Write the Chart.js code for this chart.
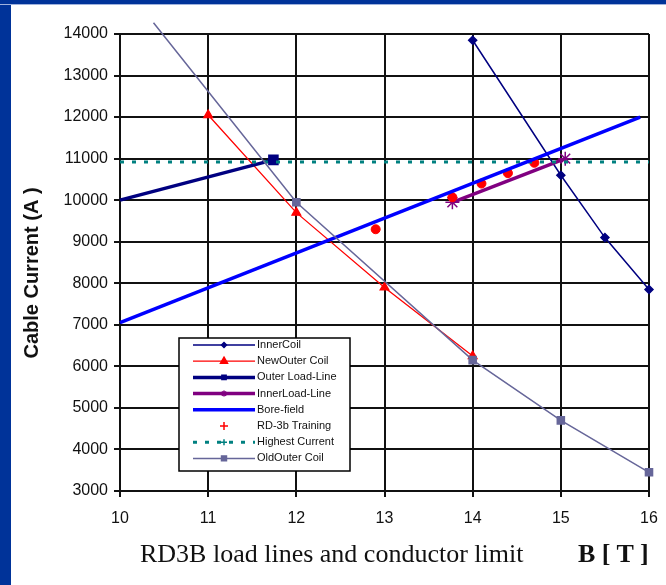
<!DOCTYPE html>
<html>
<head>
<meta charset="utf-8">
<script src="https://cdn.jsdelivr.net/npm/chart.js@4.4.1/dist/chart.umd.min.js"></script>
<style>
  html, body { margin: 0; padding: 0; background: #fff; }
  #wrap { position: relative; width: 666px; height: 585px; overflow: hidden; background: #fff; }
  #chart { position: absolute; left: 0; top: 0; }
  #frameLeft { position: absolute; left: 0; top: 0; width: 11px; height: 585px; background: #003399; }
  #frameTop { position: absolute; left: 0; top: 0; width: 666px; height: 4px; background: #003399; border-bottom: 1px solid #9fb2dd; }
  .cap { position: absolute; top: 539px; line-height: 30px; font-family: "Liberation Serif", "Times New Roman", serif;
         font-size: 26px; color: #111; white-space: nowrap; }
</style>
</head>
<body>
<div id="wrap">
  <canvas id="chart" width="666" height="585"></canvas>
  <div id="frameLeft"></div>
  <div id="frameTop"></div>
  <div class="cap" style="left:140px">RD3B load lines and conductor limit</div>
  <div class="cap" style="left:578px; font-weight:bold">B [ T ]</div>
</div>
<script>
// values: B in tesla, cable current in ampere
const innerCoilB = [14, 15, 15.5, 16];
const innerCoilI = [13850, 10600, 9100, 7850];
const newOuterB = [11, 12, 13, 14];
const newOuterI = [12050, 9700, 7900, 6250];
const outerLoadB = [10, 11.74];
const outerLoadI = [10000, 10970];
const innerLoadB = [13.77, 15.05];
const innerLoadI = [9950, 11000];
const boreB = [10, 15.9];
const boreI = [7050, 12000];
const trainingB = [12.9, 13.77, 14.1, 14.4, 14.7];
const trainingI = [9300, 10070, 10400, 10650, 10900];
const highestB = [10, 16];
const highestI = [10920, 10920];
const oldOuterB = [10.38, 12, 14, 15, 16];
const oldOuterI = [14270, 9950, 6150, 4700, 3450];

const seriesNames = ['InnerCoil', 'NewOuter Coil', 'Outer Load-Line', 'InnerLoad-Line',
  'Bore-field', 'RD-3b Training', 'Highest Current', 'OldOuter Coil'];
const yTitle = 'Cable Current (A )';

const xTicks = { min: 10, max: 16, step: 1 };
const yTicks = { min: 3000, max: 14000, step: 1000 };

function pts(xs, ys) {
  return xs.map((x, i) => ({ x: x, y: ys[i] }));
}

const datasets = [
  { label: seriesNames[0], data: pts(innerCoilB, innerCoilI), showLine: true,
    borderColor: '#000080', backgroundColor: '#000080', borderWidth: 1.5,
    pointStyle: 'rectRot', pointRadius: 4, legendRadius: 2.5, order: 8 },
  { label: seriesNames[1], data: pts(newOuterB, newOuterI), showLine: true,
    borderColor: '#ff0000', backgroundColor: '#ff0000', borderWidth: 1.3,
    pointStyle: 'triangle', pointRadius: 5, legendRadius: 4, order: 7 },
  { label: seriesNames[2], data: pts(outerLoadB, outerLoadI), showLine: true,
    borderColor: '#000080', backgroundColor: '#000080', borderWidth: 3.5,
    pointStyle: 'rect', pointRadius: [0, 5], legendRadius: 3, order: 6 },
  { label: seriesNames[3], data: pts(innerLoadB, innerLoadI), showLine: true,
    borderColor: '#800080', backgroundColor: '#800080', borderWidth: 3.5,
    pointStyle: 'star', pointRadius: 7, pointBorderWidth: 1.5, legendRadius: 3, order: 5 },
  { label: seriesNames[4], data: pts(boreB, boreI), showLine: true,
    borderColor: '#0000ff', backgroundColor: '#0000ff', borderWidth: 3.5,
    pointRadius: 0, legendRadius: 0, order: 2 },
  { label: seriesNames[5], data: pts(trainingB, trainingI), showLine: false,
    borderColor: '#ff0000', backgroundColor: '#ff0000', borderWidth: 1,
    pointStyle: 'circle', pointRadius: 4.5, legendStyle: 'cross', legendRadius: 4, order: 4 },
  { label: seriesNames[6], data: pts(highestB, highestI), showLine: true,
    borderColor: '#008080', backgroundColor: '#008080', borderWidth: 3, borderDash: [4, 8],
    pointRadius: 0, legendStyle: 'cross', legendRadius: 3, order: 3 },
  { label: seriesNames[7], data: pts(oldOuterB, oldOuterI), showLine: true,
    borderColor: '#666699', backgroundColor: '#666699', borderWidth: 1.5,
    pointStyle: 'rect', pointRadius: [0, 5, 5, 5, 5], legendRadius: 3.5, order: 1,
    clip: { left: 8, top: 20, right: 8, bottom: 8 } }
];
datasets.forEach(d => { if (d.clip === undefined) d.clip = 8; });

// legend box drawn inside the plot like the original
const legendBox = { left: 179, top: 338, width: 171, height: 133, firstRow: 345, rowGap: 16.2,
  lineFrom: 193, lineTo: 255, textX: 257 };

const insideLegend = {
  id: 'insideLegend',
  afterDraw(chart) {
    const ctx = chart.ctx;
    const L = legendBox;
    ctx.save();
    ctx.fillStyle = '#fff';
    ctx.fillRect(L.left, L.top, L.width, L.height);
    ctx.strokeStyle = '#000';
    ctx.lineWidth = 1.5;
    ctx.strokeRect(L.left, L.top, L.width, L.height);
    ctx.font = '11px "Liberation Sans", Arial, sans-serif';
    ctx.textBaseline = 'middle';
    chart.data.datasets.forEach((d, i) => {
      const y = L.firstRow + i * L.rowGap;
      ctx.strokeStyle = d.borderColor;
      ctx.fillStyle = d.backgroundColor;
      if (d.showLine) {
        ctx.lineWidth = d.borderWidth;
        ctx.setLineDash(d.borderDash || []);
        ctx.beginPath();
        ctx.moveTo(L.lineFrom, y);
        ctx.lineTo(L.lineTo, y);
        ctx.stroke();
        ctx.setLineDash([]);
      }
      if (d.legendRadius > 0) {
        ctx.lineWidth = 1.5;
        Chart.helpers.drawPoint(ctx, {
          pointStyle: d.legendStyle || d.pointStyle, radius: d.legendRadius, rotation: 0, borderWidth: 1.5
        }, (L.lineFrom + L.lineTo) / 2, y);
      }
      ctx.fillStyle = '#111';
      ctx.fillText(d.label, L.textX, y);
    });

    // y axis title, a little below the plot centre as in the original
    ctx.translate(32, 273);
    ctx.rotate(-Math.PI / 2);
    ctx.font = 'bold 20px "Liberation Sans", Arial, sans-serif';
    ctx.textAlign = 'center';
    ctx.fillStyle = '#111';
    ctx.fillText(yTitle, 0, 0);
    ctx.restore();
  }
};

const tickFont = { family: '"Liberation Sans", Arial, sans-serif', size: 16 };

new Chart(document.getElementById('chart'), {
  type: 'scatter',
  data: { datasets: datasets },
  plugins: [insideLegend],
  options: {
    responsive: false,
    animation: false,
    layout: { padding: { left: 0, top: 34, right: 17, bottom: 54 } },
    plugins: { legend: { display: false }, tooltip: { enabled: false } },
    scales: {
      x: {
        type: 'linear', min: xTicks.min, max: xTicks.max,
        ticks: { stepSize: xTicks.step, font: tickFont, color: '#111', padding: 12 },
        grid: { color: '#111', lineWidth: 2, tickLength: 6 },
        border: { color: '#111', width: 2 },
        afterFit(scale) {
          scale.height = 40;
          scale.paddingLeft = 0;
          scale.paddingRight = 0;
        }
      },
      y: {
        type: 'linear', min: yTicks.min, max: yTicks.max,
        ticks: { stepSize: yTicks.step, font: tickFont, color: '#111', padding: 6,
                 callback: v => String(v) },
        grid: { color: '#111', lineWidth: 2, tickLength: 6 },
        border: { color: '#111', width: 2 },
        afterFit(scale) { scale.width = 120; }
      }
    }
  }
});
</script>
</body>
</html>
